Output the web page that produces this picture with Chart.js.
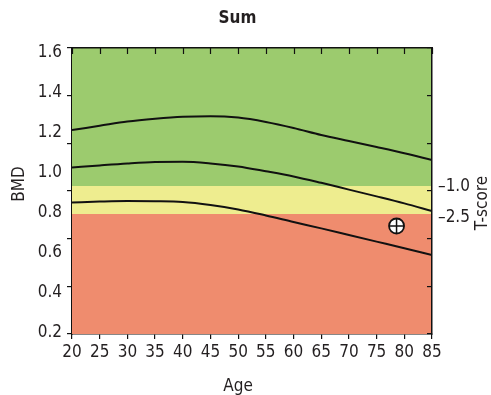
<!DOCTYPE html>
<html><head><meta charset="utf-8">
<script src="https://cdn.jsdelivr.net/npm/chart.js@4.4.1/dist/chart.umd.min.js"></script>
<style>html,body{margin:0;padding:0;background:#fff;}canvas{display:block;}</style>
</head><body>
<canvas id="c" width="491" height="395"></canvas>
<script>
// ---- data ----
const ages = [20,25,30,35,40,45,50,55,60,65,70,75,80,85];
const upperCurve  = [1.215,1.236,1.257,1.271,1.281,1.284,1.277,1.255,1.225,1.190,1.160,1.130,1.099,1.065];
const middleCurve = [1.027,1.038,1.048,1.055,1.056,1.048,1.033,1.009,0.983,0.951,0.917,0.883,0.848,0.810];
const lowerCurve  = [0.852,0.857,0.860,0.859,0.855,0.840,0.818,0.788,0.755,0.723,0.690,0.657,0.624,0.590];
const bandAges = [20, 85];
const yellowTop = [0.935, 0.935];
const yellowBottom = [0.795, 0.795];
const patientAge = [78.6];
const patientBMD = [0.735];
const xTickValues = [20,25,30,35,40,45,50,55,60,65,70,75,80,85];
const yTickValues = [0.2,0.4,0.6,0.8,1.0,1.2,1.4,1.6];
const yTickLabels = ['0.2','0.4','0.6','0.8','1.0','1.2','1.4','1.6'];
const tScoreTickValues = [0.93, 0.775];
const tScoreTickLabels = ['\u20131.0', '\u20132.5'];
const tickMarkSteps = [0,1,2,3,4,5,6];

const FONT = "'Liberation Sans Narrow','DejaVu Sans Condensed','Arial Narrow',sans-serif";
const TXT = '#231f20';
const GREEN = '#9ccb6e', YELLOW = '#eeed8f', RED = '#ef8c6e';

const pts = (xs, ys) => xs.map((x, i) => ({x, y: ys[i]}));

// inner tick marks along the top frame, placed with the x scale
const topTicksPlugin = {
  id: 'topTicks',
  afterDatasetsDraw(chart) {
    const ctx = chart.ctx, xs = chart.scales.x, top = chart.chartArea.top;
    ctx.save();
    ctx.strokeStyle = '#111';
    ctx.lineWidth = 1.2;
    ctx.beginPath();
    xTickValues.forEach(v => {
      const px = Math.round(xs.getPixelForValue(v)) + 0.5;
      ctx.moveTo(px, top);
      ctx.lineTo(px, top + 6);
    });
    ctx.stroke();
    ctx.restore();
  }
};

const titlesPlugin = {
  id: 'axisTitles',
  afterDraw(chart) {
    const ctx = chart.ctx;
    ctx.save();
    ctx.fillStyle = TXT;
    ctx.font = '17px ' + FONT;
    ctx.textAlign = 'center';
    ctx.textBaseline = 'alphabetic';
    ctx.fillText('Age', 238, 391);
    ctx.save(); ctx.translate(24, 184); ctx.rotate(-Math.PI/2); ctx.fillText('BMD', 0, 0); ctx.restore();
    ctx.save(); ctx.translate(487, 203); ctx.rotate(-Math.PI/2); ctx.fillText('T-score', 0, 0); ctx.restore();
    ctx.restore();
  }
};

new Chart(document.getElementById('c'), {
  type: 'line',
  data: {
    datasets: [
      {label:'marker cross', data: pts(patientAge, patientBMD), showLine:false, pointStyle:'cross', pointRadius:7.5, pointBorderColor:'#111', pointBorderWidth:1.5, order:0},
      {label:'marker', data: pts(patientAge, patientBMD), showLine:false, pointStyle:'circle', pointRadius:7.5, pointBackgroundColor:'#fff', pointBorderColor:'#111', pointBorderWidth:1.8, order:1},
      {label:'upper', data: pts(ages, upperCurve), borderColor:'#111', borderWidth:2, pointRadius:0, cubicInterpolationMode:'monotone', fill:false, order:2},
      {label:'middle', data: pts(ages, middleCurve), borderColor:'#111', borderWidth:2, pointRadius:0, cubicInterpolationMode:'monotone', fill:false, order:2},
      {label:'lower', data: pts(ages, lowerCurve), borderColor:'#111', borderWidth:2, pointRadius:0, cubicInterpolationMode:'monotone', fill:false, order:2},
      {label:'green', data: pts(bandAges, yellowTop), borderWidth:0, borderColor:'rgba(0,0,0,0)', pointRadius:0, backgroundColor:GREEN, fill:'end', order:10},
      {label:'yellow', data: pts(bandAges, yellowTop), borderWidth:0, borderColor:'rgba(0,0,0,0)', pointRadius:0, backgroundColor:YELLOW, fill:{value:0.795}, order:10},
      {label:'red', data: pts(bandAges, yellowBottom), borderWidth:0, borderColor:'rgba(0,0,0,0)', pointRadius:0, backgroundColor:RED, fill:'start', order:10}
    ]
  },
  options: {
    responsive: false,
    animation: false,
    devicePixelRatio: 1,
    layout: {padding: {top:0, left:0, right:16, bottom:0}},
    plugins: {
      legend: {display:false},
      tooltip: {enabled:false},
      title: {display:true, text:'Sum', color:TXT, font:{family:FONT, size:17, weight:'bold', lineHeight:1.2}, padding:{top:8, bottom:0}}
    },
    scales: {
      x: {
        type:'linear', position:'bottom', min:20, max:85,
        afterBuildTicks: s => { s.ticks = xTickValues.map(v => ({value:v})); },
        afterFit: s => { s.height = 61; },
        ticks: {color:TXT, font:{family:FONT, size:17}, padding:3, autoSkip:false, maxRotation:0},
        grid: {drawOnChartArea:false, tickLength:5, color:'#111', lineWidth:1.2},
        border: {display:true, color:'#111', width:1.5}
      },
      xTop: {
        type:'linear', position:'top', min:20, max:85,
        afterBuildTicks: s => { s.ticks = xTickValues.map(v => ({value:v})); },
        afterFit: s => { s.height = 19.6; },
        ticks: {display:false},
        grid: {display:true, drawOnChartArea:false, drawTicks:false},
        border: {display:true, color:'#111', width:1.5, z:2}
      },
      y: {
        type:'linear', position:'left', min:0.195, max:1.625, weight:1,
        afterBuildTicks: s => { s.ticks = yTickValues.map(v => ({value:v})); },
        afterFit: s => { s.width = 72; },
        ticks: {color:TXT, font:{family:FONT, size:17}, padding:10, autoSkip:false,
                callback: (v, i) => yTickLabels[i]},
        grid: {display:true, drawOnChartArea:false, drawTicks:false},
        border: {display:true, color:'#111', width:1.5}
      },
      yMarks: {
        type:'linear', position:'left', min:0, max:6, weight:0,
        afterBuildTicks: s => { s.ticks = tickMarkSteps.map(v => ({value:v})); },
        afterFit: s => { s.width = 0; },
        ticks: {display:false},
        grid: {drawOnChartArea:false, tickLength:5, color:'#111', lineWidth:1.2},
        border: {display:false}
      },
      yRight: {
        type:'linear', position:'right', min:0.195, max:1.625, weight:1,
        afterBuildTicks: s => { s.ticks = tScoreTickValues.map(v => ({value:v})); },
        afterFit: s => { s.width = 43; },
        ticks: {color:TXT, font:{family:FONT, size:17}, padding:6, autoSkip:false,
                callback: (v, i) => tScoreTickLabels[i]},
        grid: {display:true, drawOnChartArea:false, drawTicks:false},
        border: {display:true, color:'#111', width:1.5, z:2}
      },
      yRightMarks: {
        type:'linear', position:'right', min:0, max:6, weight:0,
        afterBuildTicks: s => { s.ticks = tickMarkSteps.map(v => ({value:v})); },
        afterFit: s => { s.width = 0; },
        ticks: {display:false},
        grid: {drawOnChartArea:false, tickLength:-5, color:'#111', lineWidth:1.2, z:2},
        border: {display:false}
      }
    }
  },
  plugins: [topTicksPlugin, titlesPlugin]
});
</script>
</body></html>
